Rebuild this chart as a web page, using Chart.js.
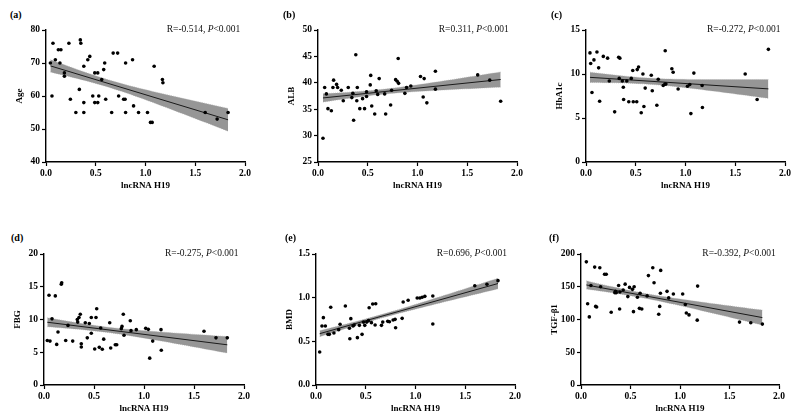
<!DOCTYPE html>
<html>
<head>
<meta charset="utf-8">
<script src="https://cdn.jsdelivr.net/npm/chart.js@4.4.1/dist/chart.umd.min.js"></script>
<style>
body { margin: 0; background: #fff; width: 798px; height: 415px; position: relative; overflow: hidden; font-family: "Liberation Serif", serif; }
.box { position: absolute; }
.lab { position: absolute; font-weight: bold; font-size: 10px; line-height: 1; }
.rtxt { position: absolute; font-size: 9.5px; line-height: 1; white-space: nowrap; color: #111; }
</style>
</head>
<body>
<script>
// lncRNA H19 (x) and clinical values (y)
var ageX = [0.044, 0.07, 0.06, 0.094, 0.124, 0.15, 0.14, 0.185, 0.185, 0.23, 0.245, 0.3, 0.335, 0.345, 0.35, 0.38, 0.38, 0.38, 0.42, 0.44, 0.47, 0.49, 0.49, 0.52, 0.52, 0.53, 0.56, 0.58, 0.59, 0.6, 0.66, 0.675, 0.72, 0.73, 0.78, 0.795, 0.8, 0.8, 0.87, 0.88, 0.93, 1.02, 1.05, 1.067, 1.087, 1.17, 1.175, 1.6, 1.72, 1.83];
var ageY = [70, 76, 60, 71, 74, 74, 70, 67, 66, 76, 59, 55, 62, 77, 76, 55, 69, 58, 71, 72, 60, 67, 58, 67, 58, 60, 65, 68, 70, 59, 55, 73, 73, 60, 59, 59, 70, 55, 71, 57, 55, 55, 52, 52, 69, 65, 64, 55, 53, 55];

var albX = [0.05, 0.067, 0.084, 0.1, 0.134, 0.15, 0.157, 0.187, 0.197, 0.234, 0.254, 0.304, 0.34, 0.35, 0.358, 0.38, 0.39, 0.395, 0.42, 0.448, 0.468, 0.488, 0.488, 0.525, 0.53, 0.54, 0.57, 0.585, 0.6, 0.615, 0.67, 0.68, 0.73, 0.74, 0.78, 0.796, 0.806, 0.81, 0.873, 0.89, 0.933, 1.03, 1.057, 1.067, 1.094, 1.18, 1.18, 1.605, 1.726, 1.836];
var albY = [29.5, 39.1, 37.9, 35.1, 34.7, 39.1, 40.5, 39.7, 39.1, 38.6, 36.6, 39.1, 37.2, 38, 32.9, 45.3, 36.6, 39.1, 35.1, 37, 35.1, 37.4, 38.3, 39.6, 41.4, 35.6, 34.1, 38.5, 37.8, 40.8, 37.9, 34.1, 35.8, 38.6, 40.6, 40.3, 44.6, 39.9, 38, 39.1, 39.4, 41.2, 37.3, 40.8, 36.2, 42.2, 38.8, 41.5, 40.5, 36.5];

var hbaX = [0.04, 0.047, 0.06, 0.08, 0.11, 0.127, 0.137, 0.174, 0.217, 0.234, 0.288, 0.328, 0.34, 0.334, 0.365, 0.375, 0.378, 0.41, 0.43, 0.455, 0.47, 0.475, 0.51, 0.515, 0.528, 0.555, 0.572, 0.582, 0.595, 0.656, 0.666, 0.712, 0.726, 0.776, 0.793, 0.796, 0.803, 0.863, 0.876, 0.926, 1.02, 1.043, 1.054, 1.084, 1.167, 1.17, 1.6, 1.72, 1.833];
var hbaY = [12.4, 11.2, 7.9, 11.6, 12.5, 10.7, 6.9, 12.0, 11.8, 9.2, 5.7, 11.9, 11.8, 9.5, 9.2, 8.5, 7.1, 9.2, 6.85, 9.5, 10.4, 6.85, 6.85, 10.5, 10.8, 5.6, 10.0, 6.3, 8.4, 9.85, 8.1, 6.45, 9.4, 8.7, 8.85, 12.65, 8.85, 10.6, 10.2, 8.3, 8.6, 8.8, 5.5, 10.1, 8.7, 6.2, 10.0, 7.1, 12.8];

var fbgX = [0.033, 0.05, 0.06, 0.08, 0.113, 0.127, 0.14, 0.173, 0.177, 0.24, 0.217, 0.287, 0.333, 0.337, 0.35, 0.363, 0.373, 0.373, 0.413, 0.433, 0.453, 0.473, 0.473, 0.507, 0.52, 0.527, 0.553, 0.567, 0.583, 0.597, 0.657, 0.667, 0.713, 0.727, 0.773, 0.78, 0.793, 0.8, 0.863, 0.87, 0.923, 1.017, 1.043, 1.057, 1.087, 1.17, 1.173, 1.6, 1.72, 1.833];
var fbgY = [6.8, 13.7, 6.7, 10.1, 13.6, 6.2, 8.1, 15.4, 15.6, 9.1, 6.8, 6.7, 10.0, 9.6, 10.3, 10.8, 6.3, 5.8, 9.5, 7.2, 9.4, 10.3, 7.9, 5.5, 10.3, 11.65, 5.75, 8.7, 5.45, 7.0, 9.5, 5.65, 6.15, 6.15, 8.6, 8.95, 10.8, 7.6, 9.8, 8.3, 8.45, 8.65, 8.5, 4.1, 6.7, 8.45, 5.3, 8.2, 7.2, 7.2];

var bmdX = [0.037, 0.06, 0.074, 0.094, 0.12, 0.134, 0.148, 0.18, 0.228, 0.242, 0.295, 0.34, 0.336, 0.35, 0.372, 0.383, 0.416, 0.436, 0.463, 0.477, 0.49, 0.51, 0.527, 0.534, 0.557, 0.57, 0.594, 0.6, 0.658, 0.671, 0.721, 0.738, 0.775, 0.795, 0.8, 0.866, 0.876, 0.926, 1.017, 1.044, 1.067, 1.094, 1.174, 1.174, 1.596, 1.718, 1.829];
var bmdY = [0.378, 0.676, 0.771, 0.676, 0.58, 0.58, 0.89, 0.595, 0.634, 0.695, 0.905, 0.53, 0.649, 0.76, 0.676, 0.687, 0.542, 0.683, 0.58, 0.72, 0.683, 0.72, 0.737, 0.885, 0.714, 0.927, 0.687, 0.93, 0.683, 0.72, 0.729, 0.725, 0.744, 0.752, 0.656, 0.763, 0.95, 0.97, 0.996, 0.996, 1.004, 1.015, 1.019, 0.698, 1.137, 1.153, 1.195];

var tgfX = [0.054, 0.067, 0.084, 0.1, 0.138, 0.148, 0.158, 0.19, 0.198, 0.238, 0.255, 0.305, 0.342, 0.349, 0.356, 0.38, 0.39, 0.393, 0.426, 0.446, 0.473, 0.49, 0.52, 0.53, 0.537, 0.57, 0.59, 0.597, 0.614, 0.668, 0.681, 0.725, 0.738, 0.785, 0.795, 0.802, 0.805, 0.869, 0.886, 0.933, 1.027, 1.054, 1.064, 1.091, 1.174, 1.178, 1.601, 1.715, 1.832];
var tgfY = [188, 124, 104, 152, 180, 120, 119, 179, 150, 169, 169, 111, 141, 143, 141, 152, 116, 142, 145, 154, 135, 149, 146, 112, 150, 134, 117, 140, 116, 136, 167, 179, 156, 108, 120, 140, 175, 143, 133, 139, 139, 123, 110, 107, 99, 151, 96, 95, 93];

var xTicks = [0, 0.5, 1.0, 1.5, 2.0];
var panelLetters = ['(a)', '(b)', '(c)', '(d)', '(e)', '(f)'];
var yTitles = ['Age', 'ALB', 'HbA1c', 'FBG', 'BMD', 'TGF-β1'];
var rValues = ['-0.514', '0.311', '-0.272', '-0.275', '0.696', '-0.392'];
var yRanges = [[40, 80, 10], [25, 50, 5], [0, 15, 5], [0, 20, 5], [0, 1.5, 0.5], [0, 200, 50]];

var panels = [
    { xs: ageX, ys: ageY, left: 45.7, top: 30, w: 199, h: 132, letter: [10, 10] },
    { xs: albX, ys: albY, left: 317.7, top: 30, w: 199, h: 132, letter: [283, 10] },
    { xs: hbaX, ys: hbaY, left: 586, top: 30, w: 199, h: 132, letter: [551, 10] },
    { xs: fbgX, ys: fbgY, left: 44, top: 253.7, w: 200, h: 131, letter: [11, 233] },
    { xs: bmdX, ys: bmdY, left: 315.7, top: 253.7, w: 199, h: 131, letter: [285, 233] },
    { xs: tgfX, ys: tgfY, left: 581.3, top: 253.7, w: 198, h: 131, letter: [549, 233] }
];

// band width multiplier, matched to the shaded area in the figure
var bandT = 1.2;

// least squares fit with a confidence band of the mean
function regression(xs, ys) {
    var n = xs.length, mx = 0, my = 0;
    for (var i = 0; i < n; i++) { mx += xs[i]; my += ys[i]; }
    mx /= n; my /= n;
    var sxx = 0, sxy = 0;
    for (var i = 0; i < n; i++) {
        sxx += (xs[i] - mx) * (xs[i] - mx);
        sxy += (xs[i] - mx) * (ys[i] - my);
    }
    var b = sxy / sxx, a = my - b * mx;
    var sse = 0;
    for (var i = 0; i < n; i++) {
        var e = ys[i] - (a + b * xs[i]);
        sse += e * e;
    }
    var s = Math.sqrt(sse / (n - 2));
    var x0 = Math.min.apply(null, xs), x1 = Math.max.apply(null, xs);
    var line = [], upper = [], lower = [];
    var steps = 40;
    for (var k = 0; k <= steps; k++) {
        var x = x0 + (x1 - x0) * k / steps;
        var yh = a + b * x;
        var half = bandT * s * Math.sqrt(1 / n + (x - mx) * (x - mx) / sxx);
        upper.push({ x: x, y: yh + half });
        lower.push({ x: x, y: yh - half });
    }
    line.push({ x: x0, y: a + b * x0 }, { x: x1, y: a + b * x1 });
    return { line: line, upper: upper, lower: lower };
}

var tickFont = { family: 'Liberation Serif', size: 9.5, weight: 'bold' };
var titleFont = { family: 'Liberation Serif', size: 9, weight: 'bold' };
var padL = 46, padT = 8, padR = 14, padB = 40;

panels.forEach(function (p, idx) {
    var box = document.createElement('div');
    box.className = 'box';
    box.style.left = (p.left - padL) + 'px';
    box.style.top = (p.top - padT) + 'px';
    var cw = padL + p.w + padR, ch = padT + p.h + padB;
    box.style.width = cw + 'px';
    box.style.height = ch + 'px';
    var cv = document.createElement('canvas');
    cv.width = cw; cv.height = ch;
    cv.style.width = cw + 'px'; cv.style.height = ch + 'px';
    box.appendChild(cv);
    document.body.appendChild(box);

    var lab = document.createElement('div');
    lab.className = 'lab';
    lab.style.left = p.letter[0] + 'px';
    lab.style.top = p.letter[1] + 'px';
    lab.textContent = panelLetters[idx];
    document.body.appendChild(lab);

    var rt = document.createElement('div');
    rt.className = 'rtxt';
    rt.style.left = (p.left + 121) + 'px';
    rt.style.top = (p.top - 5) + 'px';
    rt.innerHTML = 'R=' + rValues[idx] + ', <i>P</i>&lt;0.001';
    document.body.appendChild(rt);

    var fit = regression(p.xs, p.ys);
    var pts = p.xs.map(function (x, i) { return { x: x, y: p.ys[i] }; });
    var yr = yRanges[idx];
    var yDec = yr[2] < 1 ? 1 : 0;

    new Chart(cv.getContext('2d'), {
        type: 'scatter',
        data: {
            datasets: [{
                data: pts,
                pointRadius: 1.8,
                pointBackgroundColor: '#000',
                pointBorderWidth: 0
            }, {
                data: fit.line,
                showLine: true,
                pointRadius: 0,
                borderColor: '#1a1a1a',
                borderWidth: 1
            }, {
                data: fit.upper,
                showLine: true,
                pointRadius: 0,
                borderColor: 'rgb(175,175,175)',
                borderWidth: 0.6,
                borderDash: [1, 1],
                backgroundColor: 'rgb(150,150,150)',
                fill: '+1'
            }, {
                data: fit.lower,
                showLine: true,
                pointRadius: 0,
                borderColor: 'rgb(175,175,175)',
                borderWidth: 0.6,
                borderDash: [1, 1]
            }]
        },
        options: {
            responsive: false,
            animation: false,
            layout: { padding: { left: 0, top: padT, right: padR, bottom: 0 } },
            plugins: { legend: { display: false }, tooltip: { enabled: false } },
            scales: {
                x: {
                    type: 'linear',
                    min: 0,
                    max: 2,
                    afterFit: function (s) { s.height = padB; },
                    afterBuildTicks: function (s) { s.ticks = xTicks.map(function (v) { return { value: v }; }); },
                    ticks: { font: tickFont, color: '#000', padding: 2, callback: function (v) { return v.toFixed(1); } },
                    grid: { drawOnChartArea: false, color: '#000', tickLength: 4, tickWidth: 1.2 },
                    border: { color: '#000', width: 1.4 },
                    title: { display: true, text: 'lncRNA H19', font: titleFont, color: '#000', padding: { top: 0, bottom: 11 } }
                },
                y: {
                    type: 'linear',
                    min: yr[0],
                    max: yr[1],
                    afterFit: function (s) { s.width = padL; },
                    ticks: { stepSize: yr[2], font: tickFont, color: '#000', padding: 2, callback: function (v) { return v.toFixed(yDec); } },
                    grid: { drawOnChartArea: false, color: '#000', tickLength: 4, tickWidth: 1.2 },
                    border: { color: '#000', width: 1.4 },
                    title: { display: true, text: yTitles[idx], font: titleFont, color: '#000', padding: { top: 14, bottom: 0 } }
                }
            }
        }
    });
});
</script>
</body>
</html>
